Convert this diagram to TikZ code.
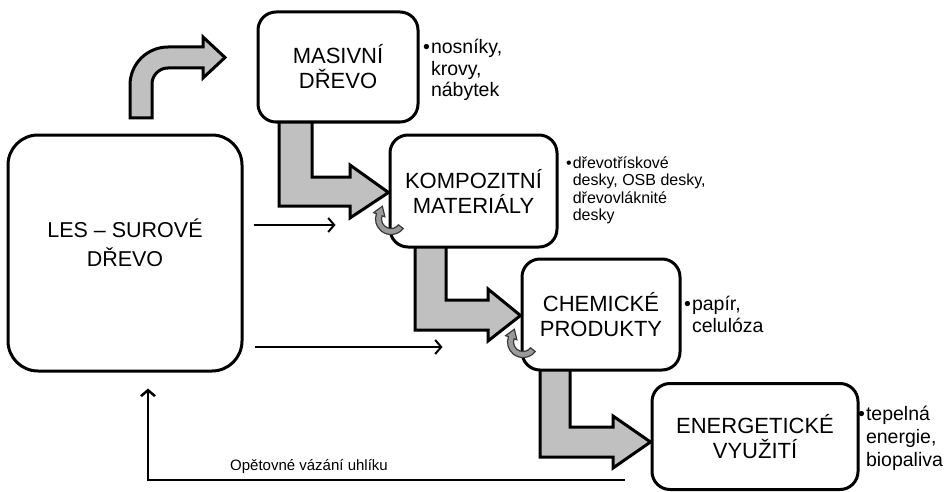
\documentclass[tikz,border=0pt]{standalone}
\usepackage{fontspec}
\setmainfont{Liberation Sans}
\usetikzlibrary{arrows.meta,calc}
\pgfdeclarelayer{back}
\pgfsetlayers{back,main}
\definecolor{arrowgray}{HTML}{C0C0C0}
\definecolor{loopgray}{HTML}{9A9A9A}
\definecolor{loopedge}{HTML}{3A3A3A}

\begin{document}
\begin{tikzpicture}[x=1pt,y=-1pt,
  stage/.style={draw=black, line width=3pt, fill=white, rounded corners=18pt,
    align=center, inner sep=0pt, font=\fontsize{22}{25}\selectfont},
  stagetext/.style={align=center, inner sep=0pt},
  flow/.style={draw=black, line width=3pt, fill=arrowgray, line join=miter},
  note/.style={anchor=base west, inner sep=0pt, align=left},
  link/.style={line width=2pt, -{Straight Barb[length=6pt,width=14pt,line width=2pt]}},
  loop/.style={draw=loopedge, line width=1.2pt, fill=loopgray, line join=miter}
]
\useasboundingbox (0,0) rectangle (952,492);

% stages
\node[stage, rounded corners=30pt, minimum width=234pt, minimum height=236pt] (les) at (125,253) {};
\node[stagetext, font=\fontsize{21.5}{29}\selectfont] (lestext) at ([yshift=10pt]les.center) {LES – SUROVÉ\\DŘEVO};
\node[stage, minimum width=160pt, minimum height=110pt] (masiv) at (338,67) {MASIVNÍ\\DŘEVO};
\node[stage, minimum width=167pt, minimum height=112pt] (komp) at (473.5,191) {KOMPOZITNÍ\\MATERIÁLY};
\node[stage, minimum width=158pt, minimum height=111pt] (chem) at (601,314.5) {CHEMICKÉ\\PRODUKTY};
\node[stage, minimum width=206pt, minimum height=106pt] (ener) at (755,436.5) {ENERGETICKÉ\\VYUŽITÍ};

% wide arrows, kept behind the stage boxes
\begin{pgfonlayer}{back}
\draw[flow] (130,118) [rounded corners=38pt] -- (130,47) [sharp corners] -- (203,47)
  -- (203,37) -- (225,57.5) -- (203,78) -- (203,68) [rounded corners=16pt] -- (152,68)
  [sharp corners] -- (152,118) -- cycle;
\draw[flow] (279,115) -- (279,206) -- (350,206) -- (350,218) -- ($(komp.west)+(0,1.5)$)
  -- (350,165) -- (350,177) -- (312,177) -- (312,115);
\draw[flow] (415,240) -- (415,330) -- (488,330) -- (488,341) -- ($(chem.west)+(0,1)$)
  -- (488,289) -- (488,300) -- (446,300) -- (446,240);
\draw[flow] (540,363) -- (540,457) -- (613,457) -- (613,468) -- ($(ener.west)+(0,5.5)$)
  -- (613,416) -- (613,427) -- (570,427) -- (570,363);
\end{pgfonlayer}

% small recycling loops at the lower left corners
\coordinate (c1) at (391,219);
\coordinate (c2) at (523,342);
\foreach \c in {c1,c2}{
  \draw[loop] ($(\c)+(38:15.5)$) arc[start angle=38, end angle=200, radius=15.5]
    -- ($(\c)+(200:18.5)$) -- ($(\c)+(200:12.5)+(290:9)$) -- ($(\c)+(200:6.5)$)
    -- ($(\c)+(200:9.5)$) arc[start angle=200, end angle=38, radius=9.5] -- cycle;
}

% thin flows from the forest
\draw[link] ($(les.east |- 0,225)+(10,0)$) -- ($(komp.west |- 0,225)+(-53,0)$);
\draw[link] ($(les.east |- 0,347)+(11,0)$) -- ($(chem.west |- 0,347)+(-78,0)$);

% carbon feedback
\coordinate (fbstart) at (625,480);
\draw[line width=2.5pt, -{Straight Barb[length=6pt,width=14pt,line width=2.5pt]}]
  (fbstart) -| ($(les.south)+(23,16)$);
\node[anchor=base west, inner sep=0pt, font=\fontsize{15}{17}\selectfont] (fblabel)
  at (230,470) {Opětovné vázání uhlíku};

% product notes
\node[note, font=\fontsize{19.5}{21.5}\selectfont] (n1) at (423,54)
  {\begin{tabular}[t]{@{}l@{\hspace{1pt}}l@{}}•&nosníky,\\&krovy,\\&nábytek\end{tabular}};
\node[note, font=\fontsize{16}{17.5}\selectfont] (n2) at (566,168)
  {\begin{tabular}[t]{@{}l@{\hspace{1pt}}l@{}}•&dřevotřískové\\&desky, OSB desky,\\&dřevovláknité\\&desky\end{tabular}};
\node[note, font=\fontsize{19.5}{22}\selectfont] (n3) at (684,310)
  {\begin{tabular}[t]{@{}l@{\hspace{1pt}}l@{}}•&papír,\\&celulóza\end{tabular}};
\node[note, font=\fontsize{19.5}{23}\selectfont] (n4) at (858,420)
  {\begin{tabular}[t]{@{}l@{\hspace{1pt}}l@{}}•&tepelná\\&energie,\\&biopaliva\end{tabular}};
\end{tikzpicture}
\end{document}
